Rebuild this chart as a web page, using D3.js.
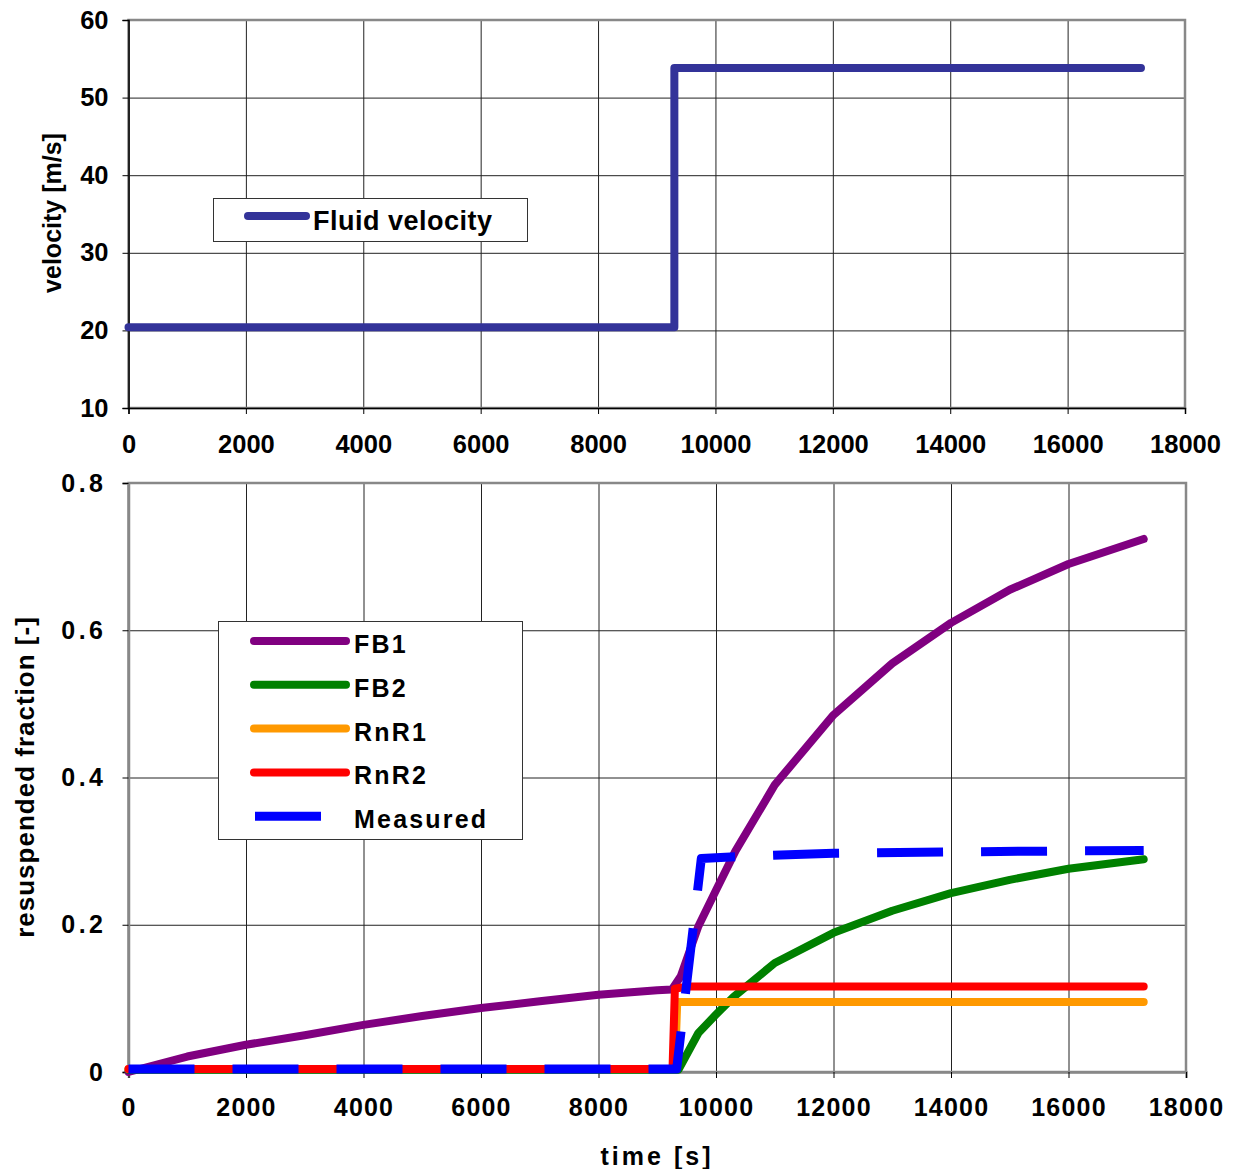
<!DOCTYPE html>
<html>
<head>
<meta charset="utf-8">
<script src="https://cdn.jsdelivr.net/npm/d3@7"></script>
<style>
    body { margin: 0; background: #fff; }
    text { font-family: "Liberation Sans", Arial, sans-serif; font-weight: bold; fill: #000; }
</style>
</head>
<body>
<div id="chart"></div>
<script>
/*
    velocity step + resuspended fraction, two stacked panels
 */

// top panel data
var velocity_time = [0, 9300, 9300, 17250];
var velocity_value = [20.4, 20.4, 53.8, 53.8];

// bottom panel data
var fb1_time = [0, 1000, 2000, 3000, 4000, 5000, 6000, 7000, 8000, 9000, 9250, 9400, 9700, 10000, 10330, 11000, 12000, 13000, 14000, 15000, 16000, 17280];
var fb1_value = [0, 0.021, 0.037, 0.05, 0.064, 0.076, 0.087, 0.096, 0.105, 0.111, 0.112, 0.13, 0.198, 0.247, 0.3, 0.39, 0.485, 0.555, 0.61, 0.655, 0.69, 0.724];

var fb2_time = [0, 9360, 9700, 10000, 10300, 11000, 12000, 13000, 14000, 15000, 16000, 17280];
var fb2_value = [0.003, 0.003, 0.053, 0.078, 0.102, 0.148, 0.189, 0.219, 0.243, 0.261, 0.276, 0.289];

var rnr1_time = [0, 9300, 9340, 17280];
var rnr1_value = [0.004, 0.004, 0.095, 0.095];

var rnr2_time = [0, 9260, 9300, 9500, 17280];
var rnr2_value = [0.004, 0.004, 0.113, 0.116, 0.116];

var measured_time = [0, 9330, 9750, 10500, 12000, 14000, 17280];
var measured_value = [0.004, 0.004, 0.29, 0.293, 0.297, 0.299, 0.301];

var series_names = ['FB1', 'FB2', 'RnR1', 'RnR2', 'Measured'];
var series_colors = ['#800080', '#008000', '#ff9900', '#ff0000', '#0000ff'];

// ticks
var x_ticks = [0, 2000, 4000, 6000, 8000, 10000, 12000, 14000, 16000, 18000];
var top_y_ticks = [10, 20, 30, 40, 50, 60];
var bottom_y_ticks = [0, 0.2, 0.4, 0.6, 0.8];

var svg_size = {
    'width': 1233,
    'height': 1169
};

var top_panel = { 'left': 128.5, 'right': 1185, 'top': 20, 'bottom': 408 };
var bottom_panel = { 'left': 128.5, 'right': 1186, 'top': 483, 'bottom': 1072 };

var svg = d3.select("#chart")
    .append("svg")
    .attr('width', svg_size.width)
    .attr('height', svg_size.height);

function zip(t, v) {
    return t.map(function(d, i){ return { 't': d, 'v': v[i] }; });
}

// ---------------- top panel ----------------
var x_top = d3.scaleLinear()
    .domain([0, 18000])
    .range([top_panel.left, top_panel.right]);

var y_top = d3.scaleLinear()
    .domain([10, 60])
    .range([top_panel.bottom, top_panel.top]);

var top_w = top_panel.right - top_panel.left;
var top_h = top_panel.bottom - top_panel.top;

// grid
svg.append('g')
    .attr('transform', 'translate(0,' + top_panel.bottom + ')')
    .call(d3.axisBottom(x_top).tickValues(x_ticks).tickSize(-top_h).tickFormat(''))
    .call(function(g){ g.select('.domain').remove(); })
    .selectAll('line').attr('stroke', '#222').attr('stroke-width', 1);

svg.append('g')
    .attr('transform', 'translate(' + top_panel.left + ',0)')
    .call(d3.axisLeft(y_top).tickValues(top_y_ticks).tickSize(-top_w).tickFormat(''))
    .call(function(g){ g.select('.domain').remove(); })
    .selectAll('line').attr('stroke', '#222').attr('stroke-width', 1);

// frame
svg.append('rect')
    .attr('x', top_panel.left)
    .attr('y', top_panel.top)
    .attr('width', top_w)
    .attr('height', top_h)
    .attr('fill', 'none')
    .attr('stroke', '#888')
    .attr('stroke-width', 2.5);

// axes with labels
var top_x_axis = svg.append('g')
    .attr('transform', 'translate(0,' + top_panel.bottom + ')')
    .call(d3.axisBottom(x_top).tickValues(x_ticks).tickSize(6).tickPadding(21).tickFormat(d3.format('d')));

var top_y_axis = svg.append('g')
    .attr('transform', 'translate(' + top_panel.left + ',0)')
    .call(d3.axisLeft(y_top).tickValues(top_y_ticks).tickSize(6).tickPadding(14).tickFormat(d3.format('d')));

[top_x_axis, top_y_axis].forEach(function(a){
    a.select('.domain').attr('stroke', '#000').attr('stroke-width', 1.5);
    a.selectAll('line').attr('stroke', '#000');
    a.selectAll('text')
        .style('font-family', '"Liberation Sans", Arial, sans-serif')
        .style('font-weight', 'bold')
        .style('font-size', '25.5px')
        .attr('fill', '#000');
});

svg.append('text')
    .attr('transform', 'translate(61,213) rotate(-90)')
    .attr('text-anchor', 'middle')
    .style('font-size', '25px')
    .text('velocity [m/s]');

// velocity line
var top_line = d3.line()
    .x(function(d){ return x_top(d.t); })
    .y(function(d){ return y_top(d.v); });

svg.append('path')
    .datum(zip(velocity_time, velocity_value))
    .attr('d', top_line)
    .attr('fill', 'none')
    .attr('stroke', '#333399')
    .attr('stroke-width', 8)
    .attr('stroke-linecap', 'round')
    .attr('stroke-linejoin', 'round');

// top legend
var top_legend = svg.append('g');
top_legend.append('rect')
    .attr('x', 213.5).attr('y', 198.5)
    .attr('width', 314).attr('height', 43)
    .attr('fill', '#fff')
    .attr('stroke', '#333')
    .attr('stroke-width', 1);
top_legend.append('line')
    .attr('x1', 248).attr('x2', 306)
    .attr('y1', 216).attr('y2', 216)
    .attr('stroke', '#333399')
    .attr('stroke-width', 8)
    .attr('stroke-linecap', 'round');
top_legend.append('text')
    .attr('x', 313).attr('y', 221)
    .attr('dominant-baseline', 'central')
    .style('font-size', '27px')
    .style('letter-spacing', '0.5px')
    .text('Fluid velocity');

// ---------------- bottom panel ----------------
var x_bottom = d3.scaleLinear()
    .domain([0, 18000])
    .range([bottom_panel.left, bottom_panel.right]);

var y_bottom = d3.scaleLinear()
    .domain([0, 0.8])
    .range([bottom_panel.bottom, bottom_panel.top]);

var bot_w = bottom_panel.right - bottom_panel.left;
var bot_h = bottom_panel.bottom - bottom_panel.top;

svg.append('g')
    .attr('transform', 'translate(0,' + bottom_panel.bottom + ')')
    .call(d3.axisBottom(x_bottom).tickValues(x_ticks).tickSize(-bot_h).tickFormat(''))
    .call(function(g){ g.select('.domain').remove(); })
    .selectAll('line').attr('stroke', '#222').attr('stroke-width', 1);

svg.append('g')
    .attr('transform', 'translate(' + bottom_panel.left + ',0)')
    .call(d3.axisLeft(y_bottom).tickValues(bottom_y_ticks).tickSize(-bot_w).tickFormat(''))
    .call(function(g){ g.select('.domain').remove(); })
    .selectAll('line').attr('stroke', '#222').attr('stroke-width', 1);

svg.append('rect')
    .attr('x', bottom_panel.left)
    .attr('y', bottom_panel.top)
    .attr('width', bot_w)
    .attr('height', bot_h)
    .attr('fill', 'none')
    .attr('stroke', '#888')
    .attr('stroke-width', 2.5);

var bot_x_axis = svg.append('g')
    .attr('transform', 'translate(0,' + bottom_panel.bottom + ')')
    .call(d3.axisBottom(x_bottom).tickValues(x_ticks).tickSize(6).tickPadding(20).tickFormat(d3.format('d')));

var bot_y_axis = svg.append('g')
    .attr('transform', 'translate(' + bottom_panel.left + ',0)')
    .call(d3.axisLeft(y_bottom).tickValues(bottom_y_ticks).tickSize(6).tickPadding(16).tickFormat(function(d){ return d === 0 ? '0' : d3.format('.1f')(d); }));

[bot_x_axis, bot_y_axis].forEach(function(a){
    a.select('.domain').attr('stroke', '#888').attr('stroke-width', 2.5);
    a.selectAll('line').attr('stroke', '#000');
    a.selectAll('text')
        .style('font-family', '"Liberation Sans", Arial, sans-serif')
        .style('font-weight', 'bold')
        .style('font-size', '25px')
        .attr('fill', '#000');
});
bot_x_axis.selectAll('text').style('letter-spacing', '1.2px');
bot_y_axis.selectAll('text').style('letter-spacing', '3.5px');

svg.append('text')
    .attr('transform', 'translate(34,777) rotate(-90)')
    .attr('text-anchor', 'middle')
    .style('font-size', '26px')
    .style('letter-spacing', '1px')
    .text('resuspended fraction [-]');

svg.append('text')
    .attr('x', 657)
    .attr('y', 1165)
    .attr('text-anchor', 'middle')
    .style('font-size', '25px')
    .style('letter-spacing', '3px')
    .text('time [s]');

var bottom_line = d3.line()
    .x(function(d){ return x_bottom(d.t); })
    .y(function(d){ return y_bottom(d.v); });

var series_data = [
    zip(fb1_time, fb1_value),
    zip(fb2_time, fb2_value),
    zip(rnr1_time, rnr1_value),
    zip(rnr2_time, rnr2_value),
    zip(measured_time, measured_value)
];

svg.append('g')
    .selectAll('.series')
    .data(series_data)
    .enter()
    .append('path')
    .classed('series', true)
    .attr('d', bottom_line)
    .attr('fill', 'none')
    .attr('stroke', function(d, i){ return series_colors[i]; })
    .attr('stroke-width', function(d, i){ return i == 4 ? 9 : 8; })
    .attr('stroke-linecap', function(d, i){ return i == 4 ? 'butt' : 'round'; })
    .attr('stroke-linejoin', 'round')
    .attr('stroke-dasharray', function(d, i){ return i == 4 ? '66,38' : null; });

// bottom legend
var legend = svg.append('g');
legend.append('rect')
    .attr('x', 218.5).attr('y', 621.5)
    .attr('width', 304).attr('height', 218)
    .attr('fill', '#fff')
    .attr('stroke', '#333')
    .attr('stroke-width', 1);

var legend_item = legend.selectAll('.legend-item')
    .data(series_names)
    .enter()
    .append('g')
    .classed('legend-item', true)
    .attr('transform', function(d, i){ return 'translate(0,' + (641 + 43.8 * i) + ')'; });

legend_item.append('line')
    .attr('x1', function(d, i){ return i == 4 ? 255 : 254; })
    .attr('x2', function(d, i){ return i == 4 ? 321 : 346; })
    .attr('y1', 0).attr('y2', 0)
    .attr('stroke', function(d, i){ return series_colors[i]; })
    .attr('stroke-width', function(d, i){ return i == 4 ? 9 : 8; })
    .attr('stroke-linecap', function(d, i){ return i == 4 ? 'butt' : 'round'; });

legend_item.append('text')
    .attr('x', 354)
    .attr('y', 3)
    .attr('dominant-baseline', 'central')
    .style('font-size', '25px')
    .style('letter-spacing', '2.2px')
    .text(function(d){ return d; });
</script>
</body>
</html>
